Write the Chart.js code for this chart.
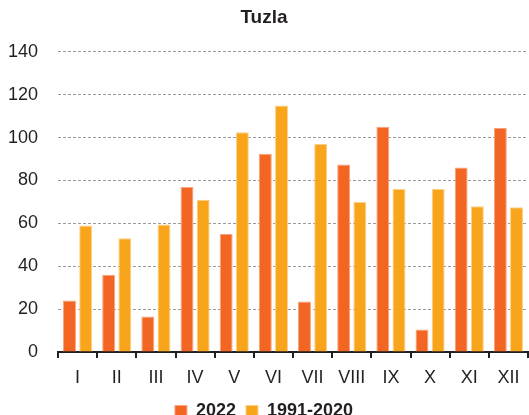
<!DOCTYPE html>
<html>
<head>
<meta charset="utf-8">
<script src="https://cdn.jsdelivr.net/npm/chart.js@4/dist/chart.umd.min.js"></script>
<style>
  html, body { margin: 0; padding: 0; background: #fff; }
  #wrap { width: 529px; height: 415px; }
</style>
</head>
<body>
<div id="wrap"><canvas id="chart" width="529" height="415"></canvas></div>
<script>
const MONTHS = ['I', 'II', 'III', 'IV', 'V', 'VI', 'VII', 'VIII', 'IX', 'X', 'XI', 'XII'];
const RAIN_2022 = [24, 36, 16.5, 77, 55, 92.5, 23.5, 87.5, 105, 10.5, 86, 104.5];
const RAIN_1991_2020 = [59, 53, 59.5, 71, 102.5, 115, 97, 70, 76, 76, 68, 67.5];
const Y_TICKS = [0, 20, 40, 60, 80, 100, 120, 140];

const FONT = "'Liberation Sans', Arial, sans-serif";
const TEXT = '#231f20';

const ctx = document.getElementById('chart').getContext('2d');
new Chart(ctx, {
  type: 'bar',
  data: {
    labels: MONTHS,
    datasets: [
      {
        label: '2022',
        data: RAIN_2022,
        backgroundColor: '#f26522',
        borderColor: '#f7a47c',
        borderWidth: 1,
      },
      {
        label: '1991-2020',
        data: RAIN_1991_2020,
        backgroundColor: '#f9a51b',
        borderColor: '#fcd08a',
        borderWidth: 1,
      },
    ],
  },
  options: {
    responsive: false,
    animation: false,
    categoryPercentage: 0.826,
    barPercentage: 0.8,
    layout: { padding: { left: 0, right: 1, top: 0, bottom: -15 } },
    plugins: {
      title: {
        display: true,
        text: 'Tuzla',
        color: TEXT,
        font: { family: FONT, size: 19, weight: 'bold' },
        padding: { top: 6, bottom: 23 },
      },
      legend: {
        position: 'bottom',
        labels: {
          color: TEXT,
          font: { family: FONT, size: 18, weight: 'bold' },
          boxWidth: 12,
          boxHeight: 11,
          padding: 10,
        },
      },
      tooltip: { enabled: false },
    },
    scales: {
      x: {
        afterFit: (scale) => {
          scale.height = 40;
        },
        grid: {
          drawOnChartArea: false,
          drawTicks: true,
          tickLength: 6,
          tickColor: TEXT,
          tickWidth: 2,
          lineWidth: 2,
          color: TEXT,
        },
        border: { display: true, color: TEXT, width: 2 },
        ticks: {
          color: TEXT,
          font: { family: FONT, size: 18 },
          padding: 9,
        },
      },
      y: {
        min: 0,
        max: 140,
        afterBuildTicks: (scale) => {
          scale.ticks = Y_TICKS.map((v) => ({ value: v }));
        },
        afterFit: (scale) => {
          scale.width = 58;
        },
        grid: {
          drawTicks: false,
          color: '#9a9a9a',
          lineWidth: 1,
        },
        border: { display: false, dash: [3, 2] },
        ticks: {
          color: TEXT,
          font: { family: FONT, size: 18 },
          padding: 20,
        },
      },
    },
  },
});
</script>
</body>
</html>
